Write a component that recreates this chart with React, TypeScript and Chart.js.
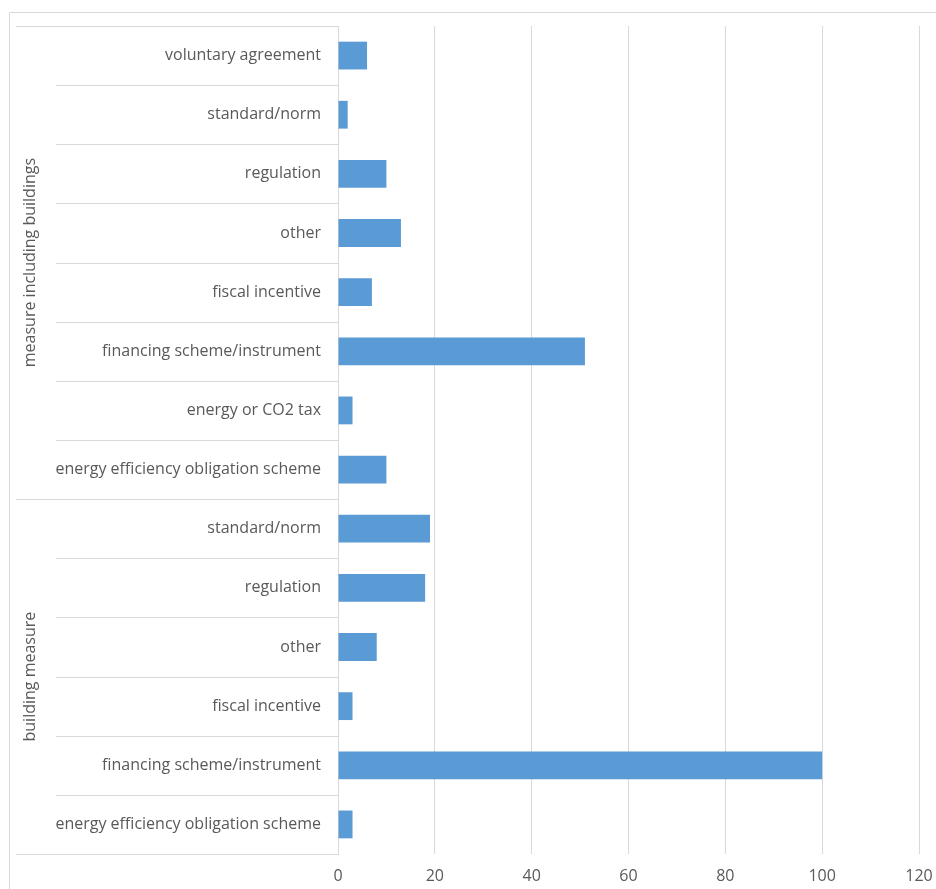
import React, { useEffect, useRef } from "react";
import { Chart, registerables } from "chart.js";

Chart.register(...registerables);

// Measure types, listed top to bottom
const categories = [
  "voluntary agreement",
  "standard/norm",
  "regulation",
  "other",
  "fiscal incentive",
  "financing scheme/instrument",
  "energy or CO2 tax",
  "energy efficiency obligation scheme",
  "standard/norm",
  "regulation",
  "other",
  "fiscal incentive",
  "financing scheme/instrument",
  "energy efficiency obligation scheme",
];

// Number of measures per type
const counts = [6, 2, 10, 13, 7, 51, 3, 10, 19, 18, 8, 3, 100, 3];

// Outer grouping of the category axis
const groupNames = ["measure including buildings", "building measure"];
const groupSizes = [8, 6];

const xMin = 0;
const xMax = 120;
const xStep = 20;

const FONT = "'Open Sans', Lato, sans-serif";
const TEXT = "#595959";
const LINE = "#d9d9d9";
const BAR = "#5b9bd5";

const categoryFrame = {
  id: "categoryFrame",
  afterDraw(chart: any) {
    const ctx = chart.ctx;
    const y = chart.scales.y;
    const area = chart.chartArea;
    const innerLeft = 56;
    const outerLeft = 16;
    const groupLabelX = 30;

    ctx.save();
    ctx.strokeStyle = LINE;
    ctx.lineWidth = 1;

    // outer chart border (top and left edges)
    ctx.beginPath();
    ctx.moveTo(9.5, chart.height);
    ctx.lineTo(9.5, 12.5);
    ctx.lineTo(chart.width, 12.5);
    ctx.stroke();

    // group boundaries
    const groupEdges: number[] = [0];
    groupSizes.forEach((s, i) => groupEdges.push(groupEdges[i] + s));

    for (let i = 0; i <= categories.length; i++) {
      const py = Math.round(y.getPixelForValue(i - 0.5)) + 0.5;
      const isGroup = groupEdges.includes(i);
      ctx.beginPath();
      ctx.moveTo(isGroup ? outerLeft : innerLeft, py);
      ctx.lineTo(area.left, py);
      ctx.stroke();
    }

    // group labels, rotated
    ctx.fillStyle = TEXT;
    ctx.font = `16px ${FONT}`;
    ctx.textAlign = "center";
    ctx.textBaseline = "middle";
    groupNames.forEach((name, g) => {
      const top = y.getPixelForValue(groupEdges[g] - 0.5);
      const bottom = y.getPixelForValue(groupEdges[g + 1] - 0.5);
      ctx.save();
      ctx.translate(groupLabelX, (top + bottom) / 2);
      ctx.rotate(-Math.PI / 2);
      ctx.fillText(name, 0, 0);
      ctx.restore();
    });
    ctx.restore();
  },
};

export default function App() {
  const ref = useRef<HTMLCanvasElement | null>(null);

  useEffect(() => {
    if (!ref.current) return;
    const chart = new Chart(ref.current, {
      type: "bar",
      data: {
        labels: categories,
        datasets: [
          {
            data: counts,
            backgroundColor: BAR,
            borderColor: BAR,
            borderWidth: 0,
            barPercentage: 0.47,
            categoryPercentage: 1,
          },
        ],
      },
      options: {
        indexAxis: "y",
        responsive: false,
        animation: false,
        devicePixelRatio: 1,
        layout: { padding: { top: 26, right: 17, bottom: 0, left: 0 } },
        plugins: {
          legend: { display: false },
          tooltip: { enabled: false },
        },
        scales: {
          x: {
            min: xMin,
            max: xMax,
            ticks: {
              stepSize: xStep,
              color: TEXT,
              font: { family: FONT, size: 16 },
              padding: 13,
            },
            grid: { color: LINE, drawTicks: false },
            border: { display: false },
            afterFit: (s: any) => {
              s.height = 35;
              s.paddingLeft = 0;
              s.paddingRight = 0;
            },
          },
          y: {
            ticks: {
              color: TEXT,
              font: { family: FONT, size: 16 },
              padding: 17,
              autoSkip: false,
            },
            grid: { display: false, drawTicks: false },
            border: { display: true, color: LINE },
            afterFit: (s: any) => {
              s.width = 338;
              s.paddingTop = 0;
              s.paddingBottom = 0;
            },
          },
        },
      },
      plugins: [categoryFrame],
    });
    return () => chart.destroy();
  }, []);

  return (
    <div style={{ position: "absolute", left: 0, top: 0, width: 936, height: 889, background: "#fff" }}>
      <canvas ref={ref} width={936} height={889} />
    </div>
  );
}
